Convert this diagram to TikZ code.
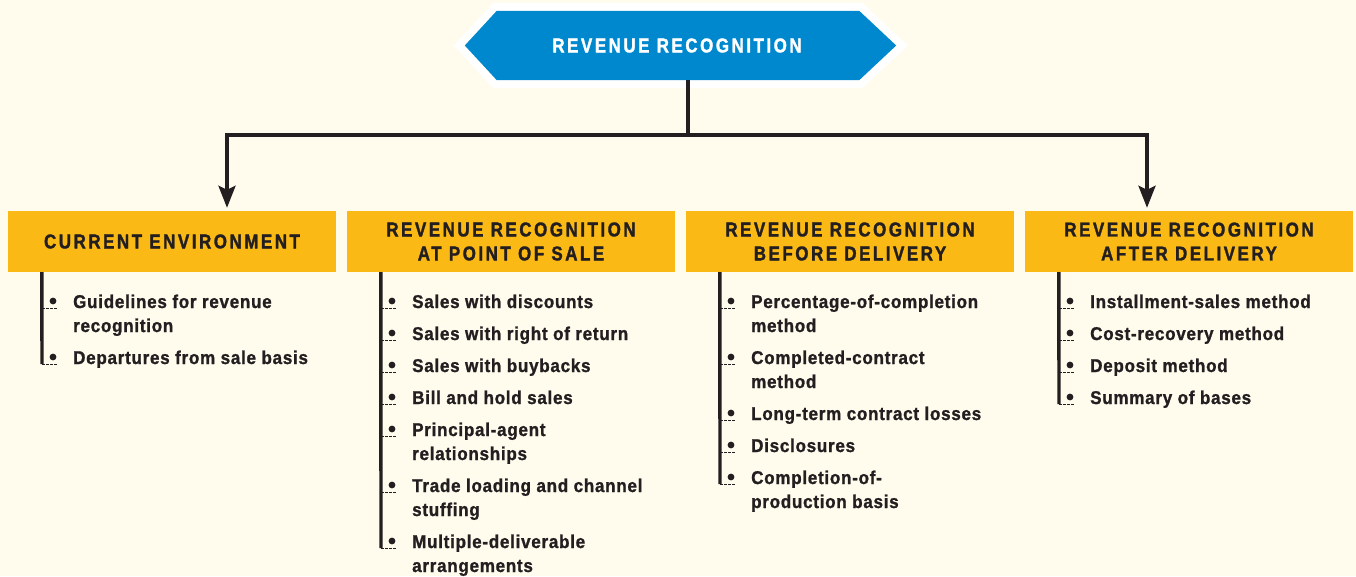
\documentclass[tikz,border=0pt]{standalone}
\usepackage{fontspec}
\setmainfont{Liberation Sans}
\newfontfamily\headfont{Liberation Sans Bold}[FakeStretch=0.85,LetterSpace=12.5,FakeBold=1.5]
\newfontfamily\itemfont{Liberation Sans Bold}[FakeStretch=0.92,LetterSpace=4,FakeBold=1.2]
\usetikzlibrary{arrows.meta}
\definecolor{bg}{RGB}{255,252,238}
\definecolor{ink}{RGB}{35,31,32}
\definecolor{orng}{RGB}{251,185,22}
\definecolor{blu}{RGB}{0,136,206}
\tikzset{
 hdr/.style={fill=orng, minimum width=328pt, minimum height=61pt, inner sep=0pt, align=center, text=ink, font=\headfont\fontsize{20}{24}\selectfont},
 conn/.style={draw=ink, line width=3.5pt},
 arr/.style={-{Stealth[length=22pt,width=17pt,inset=4pt]}},
 bar/.style={draw=ink, line width=3.4pt},
 tick/.style={draw=ink, line width=0.8pt, dash pattern=on 2.5pt off 1.5pt},
 dotmark/.style={fill=ink},
 itemtxt/.style={anchor=base west, inner sep=0pt, text=ink, font=\itemfont\fontsize{18.5}{24}\selectfont},
}
\newcommand\bitem[4]{%
  \path[dotmark] (#2+11,#3+1) circle [radius=3.4pt];
  \draw[tick] (#2,#3+8) -- (#2+15,#3+8);
  \node[itemtxt] (#1) at (#2+31,#3+8) {\parbox[t]{300pt}{\raggedright #4}};
}
\begin{document}
\begin{tikzpicture}[x=1pt,y=-1pt]
\useasboundingbox (0,0) rectangle (1356,576);
\fill[bg] (0,0) rectangle (1356,576);

% title hexagon
\node[minimum width=431pt, minimum height=69pt, inner sep=0pt] (top) at (680.5,45.5) {};
\path[draw=white, line width=16pt, fill=blu]
  (top.west) -- ([xshift=32pt]top.north west) -- ([xshift=-37pt]top.north east)
  -- (top.east) -- ([xshift=-37pt]top.south east) -- ([xshift=32pt]top.south west) -- cycle;
\fill[blu]
  (top.west) -- ([xshift=32pt]top.north west) -- ([xshift=-37pt]top.north east)
  -- (top.east) -- ([xshift=-37pt]top.south east) -- ([xshift=32pt]top.south west) -- cycle;
\node[inner sep=0pt, text=white, font=\headfont\fontsize{20}{24}\selectfont] (toptext) at ([xshift=-3.5pt]top.center) {REVENUE RECOGNITION};

% boxes
\node[hdr] (b1) at (172,241.5) {CURRENT ENVIRONMENT};
\node[hdr] (b2) at (511,241.5) {REVENUE RECOGNITION\\AT POINT OF SALE};
\node[hdr] (b3) at (850,241.5) {REVENUE RECOGNITION\\BEFORE DELIVERY};
\node[hdr] (b4) at (1189,241.5) {REVENUE RECOGNITION\\AFTER DELIVERY};

% connectors
\draw[conn] ([xshift=7.5pt]top.south) -- ++(0,-55pt) coordinate (j);
\draw[conn,arr] (j) -| ([xshift=55pt,yshift=3pt]b1.north);
\draw[conn,arr] (j) -| ([xshift=-42pt,yshift=3pt]b4.north);

% column 1
\draw[bar] ([xshift=34pt]b1.south west) -- (42,364);
\bitem{i11}{42}{300}{Guidelines for revenue\\recognition}
\bitem{i12}{42}{356}{Departures from sale basis}

% column 2
\draw[bar] ([xshift=34pt]b2.south west) -- (381,548);
\bitem{i21}{381}{300}{Sales with discounts}
\bitem{i22}{381}{332}{Sales with right of return}
\bitem{i23}{381}{364}{Sales with buybacks}
\bitem{i24}{381}{396}{Bill and hold sales}
\bitem{i25}{381}{428}{Principal-agent\\relationships}
\bitem{i26}{381}{484}{Trade loading and channel\\stuffing}
\bitem{i27}{381}{540}{Multiple-deliverable\\arrangements}

% column 3
\draw[bar] ([xshift=34pt]b3.south west) -- (720,484);
\bitem{i31}{720}{300}{Percentage-of-completion\\method}
\bitem{i32}{720}{356}{Completed-contract\\method}
\bitem{i33}{720}{412}{Long-term contract losses}
\bitem{i34}{720}{444}{Disclosures}
\bitem{i35}{720}{476}{Completion-of-\\production basis}

% column 4
\draw[bar] ([xshift=34pt]b4.south west) -- (1059,404);
\bitem{i41}{1059}{300}{Installment-sales method}
\bitem{i42}{1059}{332}{Cost-recovery method}
\bitem{i43}{1059}{364}{Deposit method}
\bitem{i44}{1059}{396}{Summary of bases}
\end{tikzpicture}
\end{document}
